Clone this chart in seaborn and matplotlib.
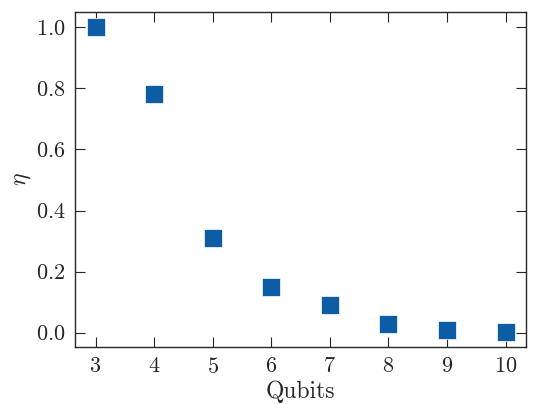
import numpy as np
import pandas as pd
import matplotlib
matplotlib.use('Agg')
import matplotlib.pyplot as plt
import seaborn as sns

# dados
qubits = [3, 4, 5, 6, 7, 8, 9, 10]
eta = [1.0, 0.78, 0.31, 0.15, 0.09, 0.03, 0.01, 0.003]

df = pd.DataFrame({'Qubits': qubits, 'eta': eta})

sns.set_style('ticks')
plt.rcParams['font.family'] = 'serif'
plt.rcParams['font.serif'] = ['cmr10', 'DejaVu Serif']
plt.rcParams['mathtext.fontset'] = 'cm'
plt.rcParams['axes.formatter.use_mathtext'] = True
plt.rcParams['axes.unicode_minus'] = False

fig = plt.figure(figsize=(5.34, 4.04), dpi=100)
ax = fig.add_axes([75 / 534, 57 / 404, 451 / 534, 335 / 404])

sns.scatterplot(data=df, x='Qubits', y='eta', marker='s', s=150,
                color='#0C5DA5', edgecolor='white', linewidth=0.5, ax=ax)

ax.set_xticks(qubits)
ax.set_yticks([0.0, 0.2, 0.4, 0.6, 0.8, 1.0])
ax.set_xlabel('Qubits', fontsize=17, labelpad=3)
ax.set_ylabel(r'$\eta$', fontsize=17, labelpad=2)
ax.tick_params(direction='in', top=True, right=True, labelsize=16,
               length=7, width=0.8, pad=7)
for sp in ax.spines.values():
    sp.set_linewidth(1.0)

fig.savefig('out.png', dpi=100)
